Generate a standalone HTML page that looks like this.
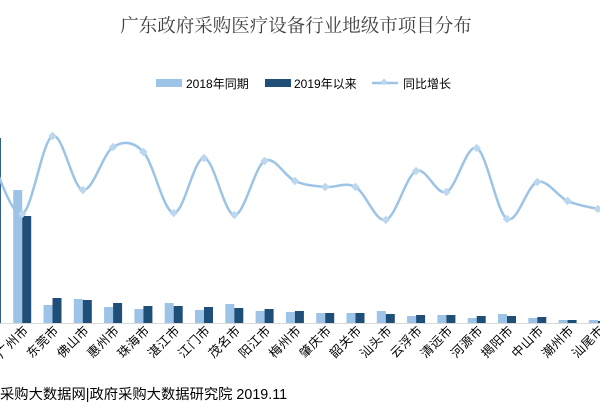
<!DOCTYPE html>
<html><head><meta charset="utf-8"><style>
html,body{margin:0;padding:0;background:#fff;width:600px;height:417px;overflow:hidden}
svg{display:block;font-family:"Liberation Sans","Noto Sans CJK SC",sans-serif}
</style></head><body>
<svg id="chart" width="600" height="417" viewBox="0 0 600 417">
<text x="296" y="32" text-anchor="middle" font-size="18.5" fill="#404040" font-family="'Liberation Serif','Noto Serif CJK SC',serif">广东政府采购医疗设备行业地级市项目分布</text>
<g>
<g><rect x="156" y="79" width="26" height="8" fill="#9dc3e6"/><text x="186" y="88" font-size="12" fill="#000">2018年同期</text></g>
<g><rect x="265" y="79" width="26" height="8" fill="#1f4e79"/><text x="294" y="88" font-size="12" fill="#000">2019年以来</text></g>
<g><line x1="372" y1="83" x2="398" y2="83" stroke="#9dc3e6" stroke-width="2.5"/><rect x="381.5" y="79.5" width="5" height="5" transform="rotate(45 384 82)" fill="#bdd7ee"/><text x="403" y="88" font-size="12" fill="#000">同比增长</text></g>
</g>
<line x1="0" y1="323.5" x2="600" y2="323.5" stroke="#d9d9d9"/>
<g id="bars"></g><g id="line"></g><g id="labels"></g>
<text x="0" y="399" font-size="14.3" fill="#000">采购大数据网|政府采购大数据研究院 2019.11</text>
</svg>
<script>
const categories=["深圳市","广州市","东莞市","佛山市","惠州市","珠海市","湛江市","江门市","茂名市","阳江市","梅州市","肇庆市","韶关市","汕头市","云浮市","清远市","河源市","揭阳市","中山市","潮州市","汕尾市"];
const values2018=[200,133,18,24,16,14,20,13,19,12,11,10,10,12,7,8,5,9,5,3,3];
const values2019=[185,107,25,23,20,17,17,16,15,14,12,10,10,9,8,8,7,7,6,3,2];
const growth=[40,-14,64,10,53,48,-13,42,-15,39,19,13,13,-20,29,8,52,-19,18,-1,-9];
const NS="http://www.w3.org/2000/svg";
const x0=-8.1, step=30.3, base=323;
function xPos(i){return x0+i*step;}
function yBar(v){return base-v;}
function yLine(v){return 200-v;}
const bars=document.getElementById('bars');
categories.forEach((c,i)=>{
  const cx=xPos(i);
  [[values2018[i],'#9dc3e6',-9,'bar-2018-'],[values2019[i],'#1f4e79',0,'bar-2019-']].forEach(([v,col,off,nm])=>{
    const r=document.createElementNS(NS,'rect');
    r.setAttribute('x',cx+off);r.setAttribute('width',9);
    r.setAttribute('y',yBar(v));r.setAttribute('height',base-yBar(v));
    r.setAttribute('fill',col);
    
    
    bars.appendChild(r);
  });
  const t=document.createElementNS(NS,'text');
  t.setAttribute('transform','translate('+(cx+7)+',331) rotate(-45)');
  t.setAttribute('text-anchor','end');t.setAttribute('font-size','12.5');t.setAttribute('fill','#000');
  t.setAttribute('letter-spacing','0.5');
  t.textContent=c;
  
  
  document.getElementById('labels').appendChild(t);
});
const pts=growth.map((g,i)=>[xPos(i),yLine(g)]);
let d='M'+pts[0][0]+','+pts[0][1];
for(let i=0;i<pts.length-1;i++){
  const p0=pts[i-1]||pts[i],p1=pts[i],p2=pts[i+1],p3=pts[i+2]||p2;
  const c1=[p1[0]+(p2[0]-p0[0])/6,p1[1]+(p2[1]-p0[1])/6];
  const c2=[p2[0]-(p3[0]-p1[0])/6,p2[1]-(p3[1]-p1[1])/6];
  d+=' C'+c1+' '+c2+' '+p2;
}
const lg=document.getElementById('line');
const path=document.createElementNS(NS,'path');
path.setAttribute('d',d);path.setAttribute('fill','none');path.setAttribute('stroke','#9dc3e6');path.setAttribute('stroke-width','2.5');


lg.appendChild(path);
pts.forEach((p,i)=>{
  const m=document.createElementNS(NS,'rect');
  m.setAttribute('x',p[0]-3);m.setAttribute('y',p[1]-3);m.setAttribute('width',6);m.setAttribute('height',6);
  m.setAttribute('transform','rotate(45 '+p[0]+' '+p[1]+')');m.setAttribute('fill','#bdd7ee');
  
  
  lg.appendChild(m);
});
</script>
</body></html>
